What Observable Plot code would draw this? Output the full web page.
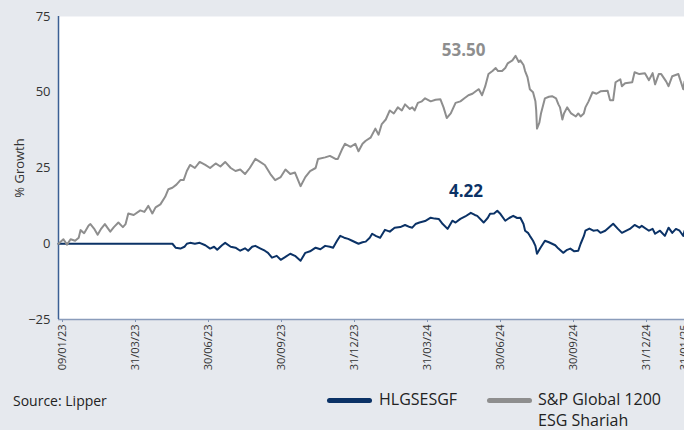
<!DOCTYPE html>
<html>
<head>
<meta charset="utf-8">
<script src="https://cdn.jsdelivr.net/npm/d3@7"></script>
<script src="https://cdn.jsdelivr.net/npm/@observablehq/plot@0.6"></script>
<style>
  html, body { margin: 0; padding: 0; background: #e6e9ee; }
  #wrap { position: relative; width: 684px; height: 430px; overflow: hidden; font-family: "Liberation Sans Narrow", "Open Sans", sans-serif; color: #222; }
  #legend { position: absolute; left: 0; top: 370px; width: 684px; height: 60px; font-size: 16px; }
  .lt { position: absolute; line-height: 21px; white-space: nowrap; }
  .sw { position: absolute; height: 5px; border-radius: 3px; }
</style>
</head>
<body>
<div id="wrap">
  <div id="chart"></div>
  <div id="legend"></div>
</div>
<script>
// ---- data ----
const seriesNames = ["HLGSESGF", "S&P Global 1200 ESG Shariah"];
const seriesColors = ["#0b3266", "#8e8e8e"];
const sourceText = "Source: Lipper";
const yLabel = "% Growth";
const yTicks = [-25, 0, 25, 50, 75];
const xTickDates = ["2023-01-09","2023-03-31","2023-06-30","2023-09-30","2023-12-31","2024-03-31","2024-06-30","2024-09-30","2024-12-31","2025-01-31"];
const startDate = "2023-01-05";

const hlgData = [
["2023-01-05",0],["2023-05-16",0],["2023-05-20",-1.3],["2023-05-26",-1.6],["2023-05-31",-1],["2023-06-03",0],["2023-06-07",0.3],["2023-06-13",0],["2023-06-19",0.3],["2023-06-26",-0.5],
["2023-07-02",-1.6],["2023-07-07",-1],["2023-07-11",-2],["2023-07-17",-0.5],["2023-07-21",0.3],["2023-07-28",-1],["2023-08-03",-1.3],["2023-08-09",-2.3],["2023-08-15",-1.5],["2023-08-19",-2.3],
["2023-08-24",-1],["2023-08-28",-0.7],["2023-09-03",-1.5],["2023-09-09",-2.3],["2023-09-13",-3],["2023-09-18",-4.6],["2023-09-24",-4],["2023-09-29",-5.3],["2023-10-04",-4.5],["2023-10-11",-3.3],
["2023-10-17",-4],["2023-10-24",-5.6],["2023-10-30",-3],["2023-11-05",-2.5],["2023-11-12",-1.3],["2023-11-18",-1.8],["2023-11-24",-0.7],["2023-11-30",-1],["2023-12-04",-1.3],["2023-12-09",1],
["2023-12-13",2.6],["2023-12-18",2],["2023-12-23",1.6],["2023-12-28",1],["2024-01-05",0],["2024-01-10",0.5],["2024-01-14",0.7],["2024-01-19",2],["2024-01-22",3.3],["2024-01-27",2.5],
["2024-02-01",2],["2024-02-07",4.6],["2024-02-13",4],["2024-02-19",5.3],["2024-02-26",5.5],["2024-03-03",6.2],["2024-03-09",5.5],["2024-03-12",5.3],["2024-03-16",6.5],["2024-03-21",7],
["2024-03-28",7.5],["2024-04-04",8.6],["2024-04-09",8.3],["2024-04-14",8.2],["2024-04-19",6.5],["2024-04-25",4.9],["2024-05-01",7.6],["2024-05-05",7],["2024-05-11",8.2],["2024-05-17",9],
["2024-05-24",10.2],["2024-05-29",9.5],["2024-06-01",9.2],["2024-06-09",7],["2024-06-14",8.5],["2024-06-17",9.9],["2024-06-22",10],["2024-06-26",10.9],["2024-06-30",9.8],["2024-07-06",7.6],
["2024-07-11",8.5],["2024-07-16",9.2],["2024-07-21",8.5],["2024-07-25",8.6],["2024-07-29",6.5],["2024-07-31",4.3],["2024-08-04",3.5],["2024-08-06",2.6],["2024-08-10",1],["2024-08-13",-0.7],
["2024-08-15",-3.3],["2024-08-19",-1.5],["2024-08-25",1],["2024-08-30",0.5],["2024-09-03",0],["2024-09-07",-0.5],["2024-09-11",-1.6],["2024-09-17",-3],["2024-09-22",-2],["2024-09-26",-1.6],
["2024-10-01",-2.5],["2024-10-06",-2.3],["2024-10-09",0],["2024-10-13",2.5],["2024-10-15",4.3],["2024-10-20",5],["2024-10-25",4.3],["2024-10-30",4.5],["2024-11-03",3.6],["2024-11-09",4.3],
["2024-11-19",6.6],["2024-11-25",4.9],["2024-11-30",3.6],["2024-12-10",4.9],["2024-12-16",6.2],["2024-12-22",5.3],["2024-12-25",5.9],["2025-01-02",4.3],["2025-01-05",4.9],["2025-01-07",3.3],
["2025-01-11",4.3],["2025-01-15",2.6],["2025-01-18",5.3],["2025-01-21",3.6],["2025-01-24",4.9],["2025-01-27",4.3],["2025-01-30",2.6],["2025-01-31",4.22]
];

const spData = [
["2023-01-05",0],["2023-01-10",1.5],["2023-01-14",-0.3],["2023-01-18",1.5],["2023-01-23",1],["2023-01-27",2],["2023-01-29",4.5],["2023-02-02",3.5],["2023-02-07",6],["2023-02-09",6.5],
["2023-02-13",5],["2023-02-17",3],["2023-02-21",5],["2023-02-25",6.5],["2023-03-03",4],["2023-03-07",5.5],["2023-03-12",7],["2023-03-17",5.5],["2023-03-20",6.5],["2023-03-23",10],
["2023-03-29",9.5],["2023-04-06",11],["2023-04-11",10.5],["2023-04-16",12.5],["2023-04-21",10],["2023-04-25",12],["2023-05-01",13],["2023-05-07",15.5],["2023-05-11",18],["2023-05-16",18.5],
["2023-05-21",19.5],["2023-05-26",21],["2023-05-30",21],["2023-06-03",24],["2023-06-07",26],["2023-06-13",25],["2023-06-19",27],["2023-06-26",26],["2023-07-02",25],["2023-07-09",26.5],
["2023-07-15",25.5],["2023-07-21",27],["2023-07-28",25],["2023-08-03",24],["2023-08-09",24.5],["2023-08-15",23],["2023-08-21",25],["2023-08-28",28],["2023-09-03",27],["2023-09-09",26],
["2023-09-16",23],["2023-09-22",21],["2023-09-29",22],["2023-10-05",24.5],["2023-10-11",23],["2023-10-17",23.5],["2023-10-24",19],["2023-10-30",22],["2023-11-05",24],["2023-11-12",25],
["2023-11-15",28],["2023-11-24",28.5],["2023-11-30",29],["2023-12-07",28],["2023-12-10",28],["2023-12-15",31],["2023-12-19",33],["2023-12-26",32],["2024-01-01",33],["2024-01-05",30.5],
["2024-01-10",33],["2024-01-14",34],["2024-01-20",35],["2024-01-26",38],["2024-01-30",36],["2024-02-03",39.5],["2024-02-08",41],["2024-02-13",44],["2024-02-18",43],["2024-02-23",45],
["2024-02-28",44],["2024-03-03",46],["2024-03-09",44.5],["2024-03-12",45],["2024-03-15",44],["2024-03-19",46.5],["2024-03-24",47],["2024-03-28",48],["2024-04-04",47],["2024-04-10",47.5],
["2024-04-16",47.7],["2024-04-20",45],["2024-04-24",41.5],["2024-04-29",43],["2024-05-05",46.5],["2024-05-11",47],["2024-05-16",48],["2024-05-21",49],["2024-05-26",49.5],["2024-05-31",50.5],
["2024-06-03",51],["2024-06-07",49],["2024-06-11",52],["2024-06-15",56],["2024-06-20",57],["2024-06-24",58],["2024-06-27",57],["2024-07-02",57],["2024-07-06",58],["2024-07-09",59.5],
["2024-07-15",60.5],["2024-07-19",62],["2024-07-23",60],["2024-07-25",60.5],["2024-07-29",59],["2024-07-31",57],["2024-08-03",55],["2024-08-06",51],["2024-08-10",50],["2024-08-13",47],
["2024-08-14",44],["2024-08-15",38],["2024-08-18",40],["2024-08-20",43],["2024-08-25",48],["2024-08-30",48.5],["2024-09-03",48.7],["2024-09-08",48],["2024-09-11",46],["2024-09-13",45],
["2024-09-16",41],["2024-09-18",43],["2024-09-22",45],["2024-09-27",43],["2024-10-03",42],["2024-10-06",43],["2024-10-09",42],["2024-10-13",43],["2024-10-15",45],["2024-10-19",47],
["2024-10-24",50],["2024-10-29",49.5],["2024-11-03",50.3],["2024-11-12",50.5],["2024-11-15",47.4],["2024-11-19",47.4],["2024-11-22",53.3],["2024-11-28",54.3],["2024-11-30",52],["2024-12-04",53],
["2024-12-13",53.3],["2024-12-16",56.6],["2024-12-22",56],["2024-12-29",56.3],["2025-01-02",54],["2025-01-05",56.3],["2025-01-07",52.6],["2025-01-10",56],["2025-01-12",56],["2025-01-16",53.6],
["2025-01-18",52],["2025-01-21",55.3],["2025-01-26",56],["2025-01-30",51],["2025-01-31",53.5]
];

// final-value annotations (text, anchor date, anchor value)
const annotations = [
  {text: "53.50", date: "2024-05-15", value: 63.8, series: 1},
  {text: "4.22",  date: "2024-05-18", value: 17.1, series: 0}
];

// ---- build ----
const parse = d3.utcParse("%Y-%m-%d");
const rows = [];
hlgData.forEach(([d, v]) => rows.push({date: parse(d), value: v, series: seriesNames[0]}));
spData.forEach(([d, v]) => rows.push({date: parse(d), value: v, series: seriesNames[1]}));
const tickDates = xTickDates.map(parse);
const ann = annotations.map(a => ({...a, date: parse(a.date), color: seriesColors[a.series]}));

const W = 684, H = 370;
const xDomain = [parse(startDate), ...tickDates];
const xRange = [58, 62, 135, 208, 281, 354, 427, 500, 573, 646, 684];

const chart = Plot.plot({
  width: W, height: H,
  marginTop: 16, marginBottom: 51, marginLeft: 58, marginRight: 0,
  style: {background: "transparent", fontFamily: "'Liberation Sans Narrow', 'Open Sans', sans-serif", color: "#333", overflow: "visible"},
  x: {type: "utc", domain: xDomain, range: xRange, clamp: false},
  y: {domain: [-25, 75]},
  color: {domain: seriesNames, range: seriesColors},
  marks: [
    Plot.frame({fill: "white", stroke: null}),
    Plot.axisY({ticks: yTicks, tickSize: 0, tickPadding: 8, fontSize: 13, label: yLabel, labelAnchor: "center", labelOffset: 44, labelArrow: "none"}),
    Plot.axisX({ticks: tickDates, tickFormat: d3.utcFormat("%d/%m/%y"), tickRotate: -90, tickSize: 3, tickPadding: 2, fontSize: 11, label: null, stroke: "#7e93b5"}),
    Plot.ruleY([-25], {stroke: "#8a9cbb", strokeWidth: 1.5}),
    Plot.ruleX([parse(startDate)], {stroke: "#3b5f94", strokeWidth: 1.5}),
    Plot.line(rows, {x: "date", y: "value", z: "series", stroke: "series", strokeWidth: 2, curve: "linear"}),
    Plot.text(ann, {x: "date", y: "value", text: "text", fill: "color", fontSize: 17, fontWeight: "bold"})
  ]
});
document.getElementById("chart").appendChild(chart);

// ---- legend ----
const lg = document.getElementById("legend");
lg.innerHTML = `
  <div class="lt" style="left:13px; top:20px; font-size:14px;">${sourceText}</div>
  <div class="sw" style="left:327px; top:28px; width:45px; background:${seriesColors[0]}"></div>
  <div class="lt" style="left:379px; top:19px;">${seriesNames[0]}</div>
  <div class="sw" style="left:487px; top:28px; width:45px; background:${seriesColors[1]}"></div>
  <div class="lt" style="left:538px; top:19px;">S&amp;P Global 1200<br>ESG Shariah</div>
`;
</script>
</body>
</html>
